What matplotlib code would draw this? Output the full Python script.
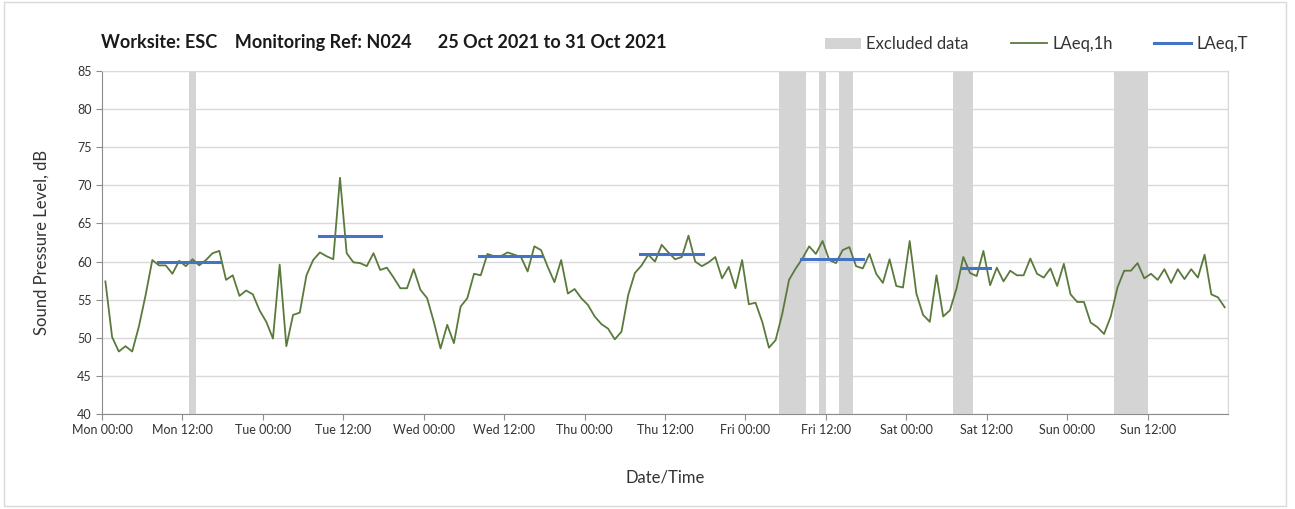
import numpy as np
import matplotlib.pyplot as plt
from matplotlib.patches import Patch, Rectangle
from matplotlib.lines import Line2D

plt.rcParams['font.family'] = ['Lato', 'DejaVu Sans']

# LAeq,1h per day (hourly, value plotted at the middle of each hour)
mon = [57.4, 50.1, 48.2, 48.9, 48.2, 51.5, 55.6, 60.2, 59.5, 59.5, 58.4, 60.1,
       59.4, 60.3, 59.5, 60.2, 61.1, 61.4, 57.6, 58.2, 55.5, 56.2, 55.7, 53.6]
tue = [52.1, 49.9, 59.6, 48.9, 53.0, 53.3, 58.2, 60.2, 61.2, 60.7, 60.3, 71.0,
       61.1, 59.9, 59.8, 59.4, 61.1, 58.9, 59.2, 57.9, 56.5, 56.5, 59.0, 56.3]
wed = [55.2, 52.1, 48.6, 51.7, 49.3, 54.1, 55.2, 58.4, 58.2, 61.0, 60.7, 60.7,
       61.2, 60.9, 60.6, 58.7, 62.0, 61.5, 59.3, 57.3, 60.2, 55.8, 56.4, 55.2]
thu = [54.3, 52.8, 51.8, 51.2, 49.8, 50.8, 55.6, 58.5, 59.5, 60.9, 60.0, 62.2,
       61.2, 60.3, 60.6, 63.4, 60.0, 59.4, 59.9, 60.6, 57.8, 59.3, 56.5, 60.2]
fri = [54.4, 54.6, 52.1, 48.7, 49.7, 53.2, 57.6, 59.1, 60.4, 62.0, 61.0, 62.7,
       60.2, 59.8, 61.5, 61.9, 59.4, 59.1, 61.0, 58.4, 57.2, 60.3, 56.8, 56.6]
sat = [62.7, 55.8, 53.0, 52.1, 58.2, 52.8, 53.6, 56.5, 60.6, 58.5, 58.1, 61.4,
       56.9, 59.2, 57.4, 58.8, 58.2, 58.2, 60.4, 58.4, 57.9, 59.1, 56.8, 59.7]
sun = [55.7, 54.7, 54.7, 52.0, 51.4, 50.5, 52.8, 56.6, 58.8, 58.8, 59.8, 57.8,
       58.4, 57.6, 59.0, 57.2, 59.0, 57.7, 59.0, 57.9, 60.9, 55.7, 55.3, 54.0]

# excluded periods, hours from Mon 00:00
excl_start = [13, 101, 107, 110, 127, 151]
excl_end = [14, 105, 108, 112, 130, 156]

# LAeq,T daytime levels: start hour, end hour, level
laeqt_start = [8.3, 32.3, 56.3, 80.3, 104.3, 128.3]
laeqt_end = [17.6, 41.6, 65.6, 89.6, 113.6, 132.5]
laeqt_level = [60.0, 63.4, 60.7, 61.0, 60.4, 59.2]

tick_labels = ['Mon 00:00', 'Mon 12:00', 'Tue 00:00', 'Tue 12:00', 'Wed 00:00',
               'Wed 12:00', 'Thu 00:00', 'Thu 12:00', 'Fri 00:00', 'Fri 12:00',
               'Sat 00:00', 'Sat 12:00', 'Sun 00:00', 'Sun 12:00']

laeq1h = np.array(mon + tue + wed + thu + fri + sat + sun)
hours = np.arange(len(laeq1h)) + 0.5

green = '#5a7a3c'
blue = '#4472c4'
grey = '#d4d4d4'

fig = plt.figure(figsize=(12.95, 5.09), dpi=100)
ax = fig.add_axes([0.0788, 0.1866, 0.8695, 0.6739])

# frame round the whole chart
fig.patches.append(Rectangle((0.003, 0.006), 0.99, 0.99, transform=fig.transFigure,
                             fill=False, edgecolor='#d9d9d9', lw=1))

for s, e in zip(excl_start, excl_end):
    ax.axvspan(s, e, color=grey, lw=0, zorder=1)

ax.plot(hours, laeq1h, color=green, lw=1.3, zorder=3)
for s, e, v in zip(laeqt_start, laeqt_end, laeqt_level):
    ax.plot([s, e], [v, v], color=blue, lw=2.2, zorder=4)

ax.set_xlim(0, 168)
ax.set_ylim(40, 85)
ax.set_yticks(np.arange(40, 86, 5))
ax.set_xticks(np.arange(0, 168, 12))
ax.set_xticklabels(tick_labels)
ax.set_xticks(np.arange(0, 169, 24), minor=True)
ax.tick_params(axis='both', which='major', labelsize=9, color='#8c8c8c',
               length=4, labelcolor='#333333')
ax.tick_params(axis='x', which='minor', length=0)

ax.grid(axis='y', color='#d9d9d9', lw=1)
ax.grid(axis='x', which='minor', color='#d9d9d9', lw=1)
ax.grid(axis='x', which='major', visible=False)
ax.set_axisbelow(True)

for side in ['top', 'right']:
    ax.spines[side].set_color('#d9d9d9')
for side in ['left', 'bottom']:
    ax.spines[side].set_color('#8c8c8c')

ax.set_ylabel('Sound Pressure Level, dB', fontsize=12, color='#333333', labelpad=20)
ax.set_xlabel('Date/Time', fontsize=12, color='#333333', labelpad=24)

fig.text(0.078, 0.917, 'Worksite: ESC    Monitoring Ref: N024      25 Oct 2021 to 31 Oct 2021',
         fontsize=13, fontweight='bold', color='#1a1a1a', va='center')

handles = [Patch(facecolor=grey, edgecolor='none'),
           Line2D([], [], color=green, lw=1.3),
           Line2D([], [], color=blue, lw=2.2)]
fig.legend(handles, ['Excluded data', 'LAeq,1h', 'LAeq,T'], ncol=3, frameon=False,
           loc='center right', bbox_to_anchor=(0.975, 0.913), fontsize=12,
           handlelength=2.2, handletextpad=0.3, columnspacing=2.5, labelcolor='#333333')

fig.savefig('out.png', dpi=100)
